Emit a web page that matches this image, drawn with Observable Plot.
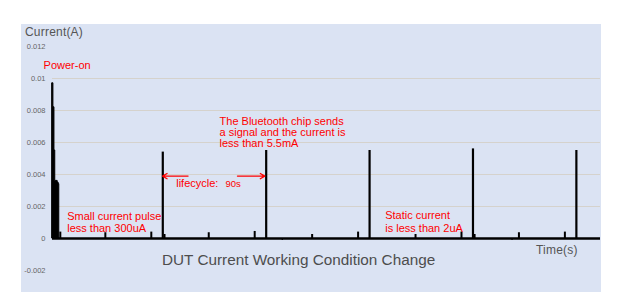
<!DOCTYPE html>
<html>
<head>
<meta charset="utf-8">
<script src="https://cdn.jsdelivr.net/npm/d3@7"></script>
<script src="https://cdn.jsdelivr.net/npm/@observablehq/plot@0.6"></script>
<style>
  body { margin: 0; background: #fff; font-family: "Liberation Sans", Arial, sans-serif; }
  #wrap { position: relative; width: 619px; height: 305px; overflow: hidden; }
  #panel { position: absolute; left: 21px; top: 24px; width: 580px; height: 268px; background: #dbe3f3; }
  #chart { position: absolute; left: 0; top: 0; }
  .lbl { position: absolute; color: #555; white-space: nowrap; line-height: 1; }
</style>
</head>
<body>
<div id="wrap">
  <div id="panel"></div>
  <div id="chart"></div>
  <div class="lbl" style="left:25px;top:26px;font-size:12px;letter-spacing:0.2px">Current(A)</div>
  <div class="lbl" style="left:536px;top:244px;font-size:12px;letter-spacing:0.2px">Time(s)</div>
  <div class="lbl" style="left:162px;top:251.5px;font-size:15.3px;color:#4d4d4d">DUT Current Working Condition Change</div>
</div>
<script>
// Y axis ticks (A) and their printed labels
const yTicks = [-0.002, 0, 0.002, 0.004, 0.006, 0.008, 0.01, 0.012];
const yTickLabels = ["-0.002", "0", "0.002", "0.004", "0.006", "0.008", "0.01", "0.012"];
const gridLevels = [0.002, 0.004, 0.006, 0.008, 0.01];

// Power-on burst envelope (time in s, current in A)
const burstTime    = [-1, -0.2, 0.7, 1.4, 3.5, 4.3, 4.9];
const burstCurrent = [0.0097, 0.0082, 0.0055, 0.0036, 0.0035, 0.0034, 0];

// Bluetooth wake-up spikes, one per 90 s lifecycle
const wakeTime    = [95, 185, 275, 365, 455];
const wakeCurrent = [0.0054, 0.0055, 0.0055, 0.0056, 0.0055];

// Small current pulses (< 300 uA)
const pulseTime    = [5.8, 45, 85, 96.5, 135, 175, 225, 265, 315, 355, 366.4, 405, 445];
const pulseCurrent = [0.0004, 0.00036, 0.0004, 0.00025, 0.00036, 0.00044, 0.00025, 0.0004, 0.00025, 0.0004, 0.00025, 0.00036, 0.0004];

// Small negative dips
const dipTime    = [199, 399];
const dipCurrent = [-0.00012, -0.00012];

// Lifecycle arrows
const arrowFrom = [117, 160];
const arrowTo   = [94.8, 183.8];
const arrowLevel = 0.0039;

const burst = burstTime.map((t, i) => ({t, i: burstCurrent[i]}));
const wakes = wakeTime.map((t, i) => ({t, i: wakeCurrent[i]}));
const pulses = pulseTime.map((t, i) => ({t, i: pulseCurrent[i]}));
const dips = dipTime.map((t, i) => ({t, i: dipCurrent[i]}));
const arrows = arrowFrom.map((t, k) => ({x1: t, x2: arrowTo[k], y: arrowLevel}));
const tickLabel = new Map(yTicks.map((v, k) => [v, yTickLabels[k]]));

const red = "#ff0000";
const note = (text, t, y, extra = {}) =>
  Plot.text([text], {x: () => t, y: () => y, text: d => d, textAnchor: "start", lineAnchor: "middle",
    fill: red, fontSize: 11, ...extra});

const chart = Plot.plot({
  width: 619,
  height: 305,
  marginLeft: 52,
  marginRight: 19,
  marginTop: 46,
  marginBottom: 35,
  style: {background: "transparent", color: "#666", fontFamily: "'Liberation Sans', Arial, sans-serif"},
  x: {domain: [-1, 476], axis: null},
  y: {domain: [-0.002, 0.012], axis: null},
  marks: [
    Plot.gridY(gridLevels, {stroke: "#d5d2cc", strokeOpacity: 1, strokeWidth: 1}),
    Plot.axisY(yTicks, {tickSize: 0, tickPadding: 7, fontSize: 7.5, tickFormat: d => tickLabel.get(d)}),
    Plot.areaY(burst, {x: "t", y: "i", curve: "step-after", fill: "black", stroke: "black", strokeWidth: 1}),
    Plot.ruleX(wakes, {x: "t", y1: 0, y2: "i", stroke: "black", strokeWidth: 2.2}),
    Plot.ruleX(pulses, {x: "t", y1: 0, y2: "i", stroke: "black", strokeWidth: 2}),
    Plot.ruleX(dips, {x: "t", y1: 0, y2: "i", stroke: "black", strokeWidth: 1.2}),
    Plot.ruleY([0], {stroke: "black", strokeWidth: 2.5}),
    Plot.arrow(arrows, {x1: "x1", x2: "x2", y1: "y", y2: "y", stroke: red, strokeWidth: 1.3, headLength: 6}),
    note("Power-on", -8.8, 0.01082),
    note("Small current pulse\nless than 300uA", 11.8, 0.001025, {lineHeight: 1.07}),
    note("The Bluetooth chip sends\na signal and the current is\nless than 5.5mA", 144.4, 0.00661, {lineHeight: 0.98}),
    note("lifecycle:", 106.7, 0.00347),
    note("90s", 149.6, 0.00343, {fontSize: 9.5}),
    note("Static current\nis less than 2uA", 288.6, 0.00108, {lineHeight: 1.18})
  ]
});
document.getElementById("chart").appendChild(chart);
</script>
</body>
</html>
